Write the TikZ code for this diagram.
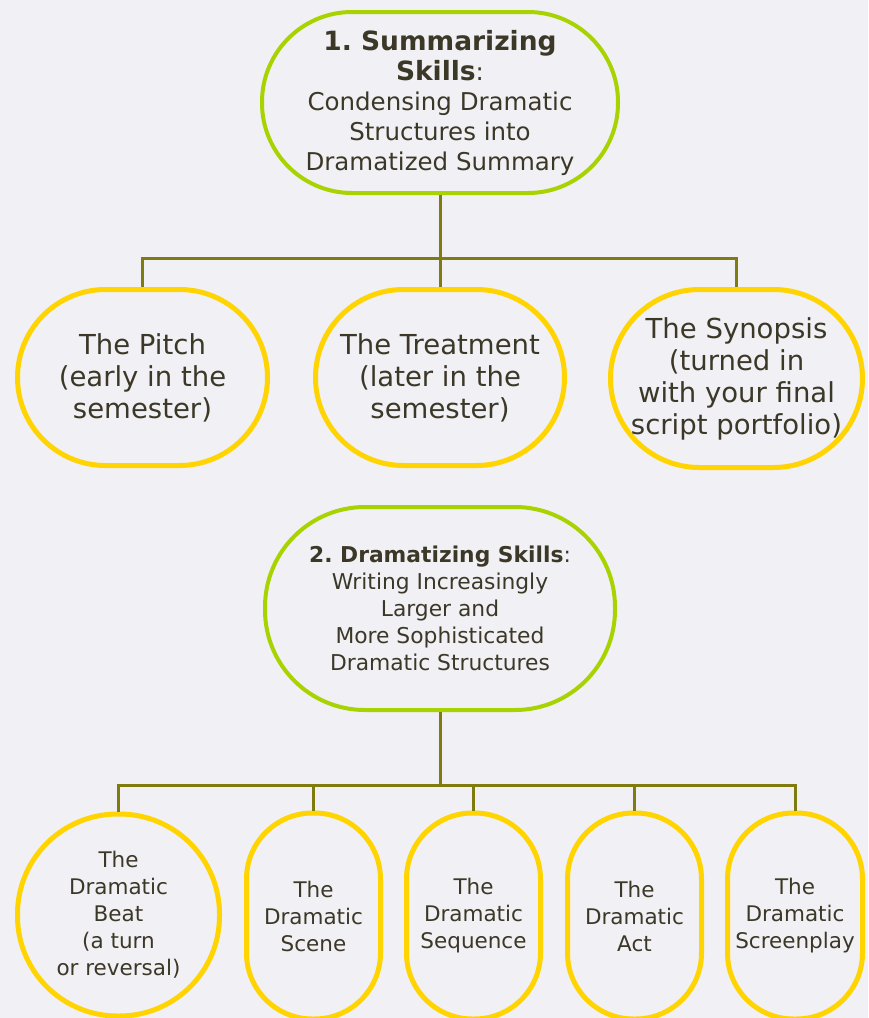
\documentclass[tikz,border=0pt]{standalone}
\usepackage{fontspec}
\setmainfont{DejaVu Sans}
\frenchspacing
\definecolor{bgc}{HTML}{F1F0F4}
\definecolor{greenb}{HTML}{A8D300}
\definecolor{yellowb}{HTML}{FFD400}
\definecolor{linec}{HTML}{7F7B0E}
\definecolor{txt}{HTML}{3C3828}
\tikzset{
  greenbox/.style={draw=greenb, line width=4pt, fill=bgc, align=center, text=txt, inner sep=0pt},
  yellowbox/.style={draw=yellowb, line width=5pt, fill=bgc, align=center, text=txt, inner sep=0pt},
  conn/.style={draw=linec, line width=3pt},
}
\begin{document}
\begin{tikzpicture}[x=1pt,y=-1pt]
\fill[bgc] (0,0) rectangle (868,1018);
\useasboundingbox (0,0) rectangle (868,1018);
\clip (0,0) rectangle (868,1018);
% level 1
\node[greenbox, minimum width=356pt, minimum height=181pt, rounded corners=90pt,
  font=\fontsize{24.5}{30}\selectfont] (sum) at (440,102.5)
  {{\fontsize{26.5}{30}\selectfont\bfseries 1. Summarizing}\\{\fontsize{26.5}{30}\selectfont\bfseries Skills}:\\Condensing Dramatic\\Structures into\\Dramatized Summary};
\node[yellowbox, minimum width=250pt, minimum height=176pt, rounded corners=88pt,
  font=\fontsize{27.5}{32}\selectfont] (pitch) at (142.5,377.5)
  {The Pitch\\(early in the\\semester)};
\node[yellowbox, minimum width=249pt, minimum height=176pt, rounded corners=88pt,
  font=\fontsize{27.5}{32}\selectfont] (treat) at (440,377.5)
  {The Treatment\\(later in the\\semester)};
\node[yellowbox, minimum width=252pt, minimum height=178pt, rounded corners=89pt,
  font=\fontsize{27.5}{32}\selectfont] (syn) at (736.5,378.5)
  {The Synopsis\\(turned in\\with your final\\script portfolio)};
\coordinate (j1) at (440,258);
\draw[conn] (sum.south) -- (j1);
\draw[conn] (pitch.north) |- (j1) -| (syn.north);
\draw[conn] (treat.north) -- (treat.north |- j1);
% level 2
\node[greenbox, minimum width=350pt, minimum height=203pt, rounded corners=100pt,
  font=\fontsize{21.8}{27}\selectfont] (dram) at (440,608.5)
  {{\bfseries 2. Dramatizing Skills}:\\Writing Increasingly\\Larger and\\More Sophisticated\\Dramatic Structures};
\node[yellowbox, minimum width=202pt, minimum height=202pt, rounded corners=100pt,
  font=\fontsize{21.5}{27}\selectfont] (beat) at (118.5,915)
  {The\\Dramatic\\Beat\\(a turn\\or reversal)};
\node[yellowbox, minimum width=134pt, minimum height=206pt, rounded corners=66pt,
  font=\fontsize{21.5}{27}\selectfont] (scene) at (313.5,916)
  {The\\Dramatic\\Scene};
\node[yellowbox, minimum width=134pt, minimum height=206pt, rounded corners=66pt,
  font=\fontsize{21.5}{27}\selectfont] (seq) at (473.5,916)
  {The\\Dramatic\\Sequence};
\node[yellowbox, minimum width=134pt, minimum height=206pt, rounded corners=66pt,
  font=\fontsize{21.5}{27}\selectfont] (act) at (634.5,916)
  {The\\Dramatic\\Act};
\node[yellowbox, minimum width=135pt, minimum height=206pt, rounded corners=66pt,
  font=\fontsize{21.5}{27}\selectfont] (play) at (795,916)
  {The\\Dramatic\\Screenplay};
\coordinate (j2) at (440,785);
\draw[conn] (dram.south) -- (j2);
\draw[conn] (beat.north) |- (j2) -| (play.north);
\draw[conn] (scene.north) -- (scene.north |- j2);
\draw[conn] (seq.north) -- (seq.north |- j2);
\draw[conn] (act.north) -- (act.north |- j2);
\end{tikzpicture}
\end{document}
